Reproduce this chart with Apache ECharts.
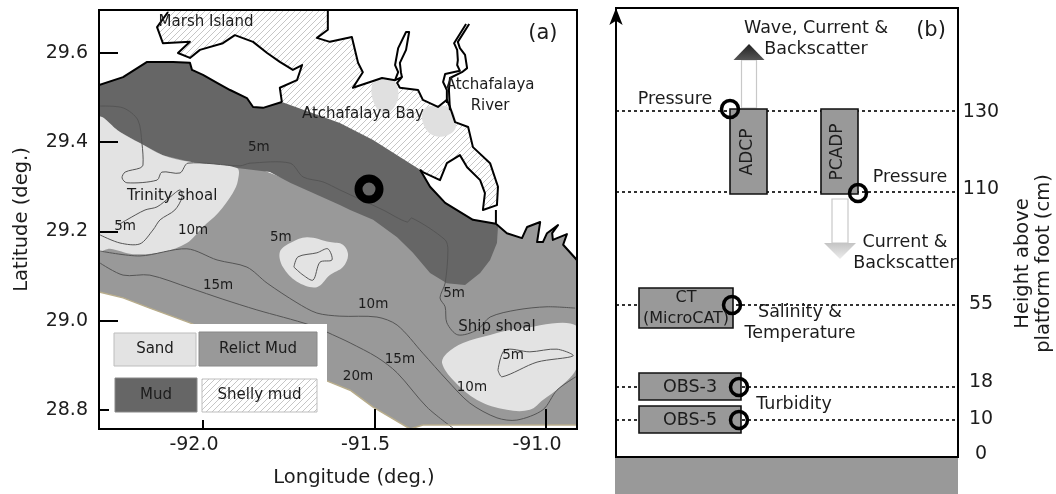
<!DOCTYPE html>
<html><head><meta charset="utf-8">
<style>html,body{margin:0;padding:0;background:#fff}#c{width:1056px;height:494px}</style>
<script src="https://cdn.jsdelivr.net/npm/echarts@6/dist/echarts.min.js"></script>
</head><body><div id="c"></div>
<script>
// ---------- panel (a): map, all in [longitude, latitude] ----------
const lonTicks=[-92.0,-91.5,-91.0];
const latTicks=[28.8,29.0,29.2,29.4,29.6];
const relictMud=[[-92.303,29.472],[-91.901,29.360],[-91.601,29.270],[-91.192,29.214],[-91.146,29.217],[-91.114,29.196],[-91.070,29.185],[-91.055,29.210],[-91.017,29.221],[-91.026,29.176],[-91.009,29.176],[-90.997,29.196],[-90.965,29.214],[-90.982,29.196],[-90.980,29.181],[-90.939,29.194],[-90.950,29.170],[-90.910,29.136],[-90.910,28.766],[-91.359,28.766],[-91.396,28.757],[-91.504,28.806],[-91.571,28.844],[-91.630,28.862],[-92.038,28.995],[-92.155,29.028],[-92.233,29.051],[-92.303,29.064]];
const mud=[[-92.303,29.528],[-92.233,29.546],[-92.163,29.580],[-92.087,29.580],[-92.038,29.578],[-92.032,29.562],[-92.000,29.551],[-91.959,29.533],[-91.921,29.517],[-91.872,29.499],[-91.854,29.479],[-91.825,29.477],[-91.770,29.490],[-91.601,29.443],[-91.504,29.405],[-91.367,29.338],[-91.338,29.300],[-91.294,29.264],[-91.213,29.226],[-91.146,29.217],[-91.140,29.210],[-91.143,29.174],[-91.163,29.136],[-91.192,29.107],[-91.236,29.080],[-91.289,29.084],[-91.338,29.107],[-91.388,29.152],[-91.434,29.187],[-91.504,29.226],[-91.571,29.248],[-91.601,29.259],[-91.746,29.309],[-91.805,29.333],[-91.901,29.342],[-92.038,29.356],[-92.117,29.371],[-92.184,29.398],[-92.242,29.423],[-92.300,29.454],[-92.303,29.454]];
const shellyMud=[[-92.102,29.696],[-91.636,29.696],[-91.636,29.652],[-91.668,29.634],[-91.630,29.625],[-91.566,29.636],[-91.548,29.578],[-91.534,29.557],[-91.563,29.522],[-91.478,29.544],[-91.440,29.539],[-91.420,29.546],[-91.434,29.533],[-91.426,29.522],[-91.373,29.517],[-91.359,29.495],[-91.315,29.479],[-91.289,29.495],[-91.280,29.479],[-91.265,29.445],[-91.227,29.434],[-91.213,29.389],[-91.163,29.353],[-91.140,29.300],[-91.143,29.259],[-91.184,29.248],[-91.178,29.286],[-91.192,29.315],[-91.230,29.344],[-91.251,29.371],[-91.289,29.353],[-91.309,29.315],[-91.359,29.333],[-91.367,29.338],[-91.504,29.405],[-91.601,29.443],[-91.770,29.490],[-91.776,29.522],[-91.726,29.539],[-91.711,29.573],[-91.738,29.562],[-91.776,29.580],[-91.813,29.600],[-91.854,29.625],[-91.907,29.640],[-91.942,29.622],[-92.009,29.607],[-92.038,29.589],[-92.073,29.600],[-92.038,29.625],[-92.117,29.622],[-92.134,29.658],[-92.102,29.692]];
const sandTrinity=[[-92.303,29.454],[-92.242,29.423],[-92.184,29.398],[-92.117,29.371],[-92.038,29.356],[-91.901,29.342],[-91.898,29.315],[-91.913,29.286],[-91.956,29.241],[-92.000,29.210],[-92.047,29.174],[-92.117,29.154],[-92.204,29.149],[-92.271,29.161],[-92.303,29.158]];
const sandMid=[[-91.776,29.154],[-91.746,29.174],[-91.697,29.187],[-91.630,29.176],[-91.592,29.170],[-91.577,29.147],[-91.592,29.120],[-91.630,29.102],[-91.668,29.075],[-91.726,29.087],[-91.767,29.120]];
const sandShip=[[-91.303,28.905],[-91.289,28.927],[-91.242,28.950],[-91.163,28.968],[-91.085,28.981],[-90.910,28.988],[-90.910,28.896],[-90.959,28.851],[-91.009,28.822],[-91.047,28.800],[-91.114,28.800],[-91.201,28.822],[-91.271,28.867]];
const sandBayWest=[[-91.504,29.535],[-91.507,29.501],[-91.484,29.468],[-91.455,29.468],[-91.431,29.499],[-91.440,29.535],[-91.478,29.544]];
const sandBayEast=[[-91.347,29.479],[-91.362,29.457],[-91.344,29.423],[-91.309,29.412],[-91.274,29.421],[-91.262,29.439],[-91.280,29.477]];
const riverWest=[[-91.233,29.665],[-91.268,29.622],[-91.259,29.607],[-91.257,29.584],[-91.259,29.573],[-91.251,29.560],[-91.294,29.553],[-91.300,29.535],[-91.289,29.517],[-91.289,29.488]];
const riverEast=[[-91.224,29.665],[-91.257,29.625],[-91.251,29.611],[-91.236,29.596],[-91.230,29.566],[-91.245,29.557],[-91.280,29.544],[-91.283,29.517],[-91.280,29.472]];
const waxLake=[[-91.440,29.539],[-91.431,29.557],[-91.440,29.573],[-91.431,29.611],[-91.408,29.647],[-91.399,29.647],[-91.408,29.607],[-91.426,29.578],[-91.423,29.557],[-91.420,29.546]];
const contour5main=[[-92.300,29.481],[-92.233,29.477],[-92.190,29.450],[-92.178,29.398],[-92.175,29.349],[-92.184,29.342],[-92.227,29.333],[-92.236,29.320],[-92.222,29.309],[-92.134,29.315],[-92.120,29.333],[-92.067,29.331],[-92.044,29.353],[-91.892,29.347],[-91.863,29.353],[-91.746,29.353],[-91.708,29.322],[-91.650,29.311],[-91.601,29.293],[-91.475,29.248],[-91.405,29.221],[-91.391,29.230],[-91.294,29.181],[-91.286,29.158],[-91.294,29.084],[-91.309,29.051],[-91.294,29.031],[-91.289,28.995],[-91.257,28.968],[-91.201,28.979],[-91.163,29.008],[-91.085,29.024],[-90.997,29.031],[-90.915,29.028]];
const contour5trinity=[[-92.300,29.192],[-92.242,29.174],[-92.184,29.172],[-92.146,29.203],[-92.125,29.226],[-92.082,29.248],[-92.061,29.277],[-92.067,29.293],[-92.096,29.277],[-92.134,29.255],[-92.169,29.248],[-92.222,29.226],[-92.248,29.214]];
const contour5mid=[[-91.735,29.120],[-91.723,29.143],[-91.668,29.152],[-91.636,29.161],[-91.624,29.136],[-91.659,29.131],[-91.679,29.091],[-91.708,29.102],[-91.735,29.120]];
const contour5ship=[[-91.140,28.889],[-91.120,28.934],[-91.047,28.930],[-90.968,28.936],[-90.921,28.921],[-91.026,28.907],[-91.128,28.874],[-91.140,28.889]];
const contour10=[[-92.300,29.156],[-92.184,29.145],[-92.047,29.161],[-91.959,29.136],[-91.872,29.120],[-91.813,29.084],[-91.726,29.040],[-91.668,29.017],[-91.601,29.010],[-91.493,29.008],[-91.434,28.990],[-91.359,28.927],[-91.289,28.867],[-91.222,28.815],[-91.143,28.782],[-91.085,28.777],[-91.009,28.800],[-90.968,28.844],[-90.913,28.874]];
const contour15=[[-92.300,29.129],[-92.233,29.102],[-92.155,29.102],[-92.038,29.073],[-91.942,29.048],[-91.843,29.024],[-91.688,28.990],[-91.601,28.961],[-91.571,28.950],[-91.493,28.918],[-91.434,28.883],[-91.347,28.806],[-91.271,28.759]];
const site=[-91.516,29.295];
const mapLabels=[['Marsh Island',-91.991,29.670,15],['Atchafalaya Bay',-91.534,29.463,15],['Atchafalaya\nRiver',-91.163,29.504,15],['Trinity shoal',-92.090,29.279,15],['Ship shoal',-91.143,28.986,15],['5m',-91.837,29.389,13.5],['5m',-92.227,29.210,13.5],['10m',-92.029,29.201,13.5],['5m',-91.773,29.187,13.5],['15m',-91.956,29.078,13.5],['10m',-91.504,29.037,13.5],['15m',-91.426,28.912,13.5],['20m',-91.548,28.874,13.5],['5m',-91.268,29.060,13.5],['10m',-91.216,28.851,13.5],['5m',-91.096,28.921,13.5],['(a)',-91.009,29.643,21]];

// ---------- panel (b): schematic of the platform ----------
const heights=[0,10,18,55,110,130];
const heightLabelPos=[3,38,75,153,268,345];
const dottedHeights=[37,70,152,265,346];
const instrumentNames=['ADCP','PCADP','CT','OBS-3','OBS-5'];
const instrumentLeft=[114,205,23,23,23];
const instrumentRight=[151,242,117,125,125];
const instrumentBottom=[263,263,129,57,24];
const instrumentTop=[348,348,169,84,51];
const sensorX=[114,242,116,123,123];
const sensorY=[348,264,152,70,37];
const panelLabels=[['Wave, Current &\nBackscatter',200,418,17.5,0],['(b)',315,426,21,0],['Pressure',59,358,17.5,0],['Pressure',294,280,17.5,0],['Current &\nBackscatter',289,204,17.5,0],['Salinity &\nTemperature',184,134,17.5,0],['Turbidity',178,53,17.5,0],['ADCP',132,305,17,90],['PCADP',222,305,17,90],['CT\n(MicroCAT)',70,149,16,0],['OBS-3',74,70,17.5,0],['OBS-5',74,37,17.5,0]];

const legendItems=[['Sand',114,333,82,33,'#e3e3e3','#bdbdbd'],['Relict Mud',199,332,118,34,'#999999','#888888'],['Mud',115,378,82,34,'#666666','#888888'],['Shelly mud',202,379,115,33,'hatch','#bdbdbd']];

const FONT='"DejaVu Sans"', INK='#1c1c1c';

const hc=document.createElement('canvas');hc.width=6;hc.height=6;
const g=hc.getContext('2d');g.fillStyle='#fff';g.fillRect(0,0,6,6);g.strokeStyle='#c6c6c6';g.lineWidth=1;
g.beginPath();g.moveTo(-1,7);g.lineTo(7,-1);g.moveTo(-1,1);g.lineTo(1,-1);g.moveTo(5,7);g.lineTo(7,5);g.stroke();
const hatch={image:hc,repeat:'repeat'};

function poly(name,rings,fill,z,smooth,stroke){return {type:'custom',name,coordinateSystem:'cartesian2d',xAxisIndex:0,yAxisIndex:0,z,silent:true,clip:true,
  data:rings.map(r=>r[0]),encode:{x:0,y:1},
  renderItem:(p,api)=>({type:'polygon',shape:{points:rings[p.dataIndex].map(c=>api.coord(c)),smooth:smooth||0},style:{fill,stroke:stroke||null,lineWidth:stroke?1:0}})};}
function path(name,lines,color,width,z,smooth){return {type:'custom',name,coordinateSystem:'cartesian2d',xAxisIndex:0,yAxisIndex:0,z,silent:true,clip:true,
  data:lines.map(r=>r[0]),encode:{x:0,y:1},
  renderItem:(p,api)=>({type:'polyline',shape:{points:lines[p.dataIndex].map(c=>api.coord(c)),smooth:smooth||0},style:{fill:null,stroke:color,lineWidth:width,lineJoin:'round'}})};}
function labels(name,rows,xi,yi,z){return {type:'scatter',name,xAxisIndex:xi,yAxisIndex:yi,z,silent:true,symbolSize:1,itemStyle:{color:'transparent',opacity:1},
  data:rows.map(r=>({value:[r[1],r[2]],name:r[0],label:{show:true,position:'inside',align:'center',verticalAlign:'middle',formatter:r[0],fontFamily:FONT,fontSize:r[3],lineHeight:21,color:INK,rotate:r[4]||0}}))};}

const coast=[mud.slice(0,13),mud.slice(15,20),shellyMud.slice(1,34),shellyMud.slice(36),relictMud.slice(4,18),riverWest,riverEast,waxLake,[[-91.146,29.248],[-91.146,29.217]]];
const tanCoast=[relictMud.slice(19),relictMud.slice(18,20)];

const series=[
 poly('Relict mud',[relictMud],'#999999',2),
 poly('Shelly mud',[shellyMud],hatch,3),
 poly('Mud',[mud],'#666666',4),
 poly('Sand',[sandTrinity,sandMid,sandShip],'#e3e3e3',5,0.35),
 poly('Sand (bay)',[sandBayWest,sandBayEast],'#e0e0e0',5,0.35),
 path('Contours',[contour5main,contour5trinity,contour5mid,contour5ship,contour10,contour15],'#555555',1,6,0.3),
 path('South coast',tanCoast,'#b8ad8c',1.5,6),
 path('Coast',coast,'#000000',2,7),
 {type:'scatter',name:'Site',xAxisIndex:0,yAxisIndex:0,z:8,silent:true,symbolSize:21,itemStyle:{color:'transparent',borderColor:'#000',borderWidth:8,opacity:1},data:[site]},
 labels('Map labels',mapLabels,0,0,9)
];
dottedHeights.forEach(h=>series.push({type:'line',name:'Level '+h,xAxisIndex:1,yAxisIndex:1,z:2,silent:true,symbol:'none',lineStyle:{color:'#000',width:1.6,type:[3,3]},data:[[0,h],[342,h]]}));
series.push({type:'custom',name:'Arrows',xAxisIndex:1,yAxisIndex:1,z:3,silent:true,coordinateSystem:'cartesian2d',encode:{x:0,y:1},
 data:[[133,349],[224,258]],
 renderItem:(p,api)=>{const up=p.dataIndex===0;const c=api.coord;
  const cx=api.value(0),by=api.value(1);
  const tipLen=16,baseLen=up?48:44,hs=up?7.5:8,hh=up?15.5:16;const d=up?1:-1;
  const s=[c([cx-hs,by]),c([cx+hs,by]),c([cx+hs,by+d*baseLen]),c([cx-hs,by+d*baseLen])];
  const h=[c([cx-hh,by+d*baseLen]),c([cx+hh,by+d*baseLen]),c([cx,by+d*(baseLen+tipLen)])];
  const grad=up?new echarts.graphic.LinearGradient(0,0,0,1,[{offset:0,color:'#222'},{offset:1,color:'#555'}]):new echarts.graphic.LinearGradient(0,0,0,1,[{offset:0,color:'#c4c4c4'},{offset:1,color:'#ececec'}]);
  return {type:'group',children:[{type:'polygon',shape:{points:s},style:{fill:'#fff',stroke:'#c8c8c8',lineWidth:1.2}},{type:'polygon',shape:{points:h},style:{fill:grad,stroke:null}}]};}});
series.push({type:'custom',name:'Instruments',xAxisIndex:1,yAxisIndex:1,z:4,silent:true,coordinateSystem:'cartesian2d',encode:{x:0,y:1},
 data:instrumentNames.map((n,i)=>[instrumentLeft[i],instrumentBottom[i],instrumentRight[i],instrumentTop[i]]),
 renderItem:(p,api)=>{const a=api.coord([api.value(0),api.value(3)]),b=api.coord([api.value(2),api.value(1)]);
  return {type:'rect',shape:{x:a[0],y:a[1],width:b[0]-a[0],height:b[1]-a[1]},style:{fill:'#999999',stroke:'#111',lineWidth:1.6}};}});
series.push({type:'scatter',name:'Sensors',xAxisIndex:1,yAxisIndex:1,z:6,silent:true,symbolSize:17,itemStyle:{color:'transparent',borderColor:'#000',borderWidth:3.5,opacity:1},data:sensorX.map((x,i)=>[x,sensorY[i]])});
series.push(labels('Panel labels',panelLabels,1,1,7));

const graphic=[
 {type:'rect',z:50,shape:{x:615,y:458,width:343,height:36},style:{fill:'#999999'}},
 {type:'rect',z:50,shape:{x:99,y:10,width:478,height:419},style:{fill:null,stroke:'#000',lineWidth:2}},
 {type:'rect',z:60,shape:{x:109,y:324,width:218,height:96},style:{fill:'#ffffff'}}
];
legendItems.forEach(r=>{
 graphic.push({type:'rect',z:61,shape:{x:r[1],y:r[2],width:r[3],height:r[4]},style:{fill:r[5]==='hatch'?hatch:r[5],stroke:r[6],lineWidth:1}});
 graphic.push({type:'text',z:62,style:{text:r[0],x:r[1]+r[3]/2,y:r[2]+r[4]/2,align:'center',verticalAlign:'middle',fontFamily:FONT,fontSize:15,fill:INK}});
});

const option={animation:false,backgroundColor:'#fff',
 grid:[{left:99,top:10,width:478,height:419,show:false,outerBoundsMode:'none'},
       {left:616,top:8,width:342,height:449,show:true,borderColor:'#000',borderWidth:2,backgroundColor:'transparent',outerBoundsMode:'none'}],
 xAxis:[
  {type:'value',gridIndex:0,min:-92.3032,max:-90.9096,z:10,name:'Longitude (deg.)',nameLocation:'middle',nameGap:39,
   nameTextStyle:{fontFamily:FONT,fontSize:19.5,color:INK,padding:[0,0,0,32]},
   axisLine:{show:false},splitLine:{show:false},
   axisTick:{show:true,inside:true,length:20,lineStyle:{color:'#000',width:2},customValues:lonTicks},
   axisLabel:{show:true,customValues:lonTicks,margin:7,padding:[0,18,0,0],fontFamily:FONT,fontSize:19,color:INK,formatter:v=>v.toFixed(1)}},
  {type:'value',gridIndex:1,min:0,max:342,show:false,splitLine:{show:false}}
 ],
 yAxis:[
  {type:'value',gridIndex:0,min:28.757,max:29.6964,z:10,name:'Latitude (deg.)',nameLocation:'middle',nameGap:67,nameRotate:90,
   nameTextStyle:{fontFamily:FONT,fontSize:19.5,color:INK},
   axisLine:{show:false},splitLine:{show:false},
   axisTick:{show:true,inside:true,length:19,lineStyle:{color:'#000',width:2},customValues:latTicks},
   axisLabel:{show:true,customValues:latTicks,margin:11,padding:[0,0,5,0],fontFamily:FONT,fontSize:19,color:INK,formatter:v=>v.toFixed(1)}},
  {type:'value',gridIndex:1,position:'right',min:0,max:449,name:'Height above\nplatform foot (cm)',nameLocation:'middle',nameGap:54,nameRotate:90,
   nameTextStyle:{fontFamily:FONT,fontSize:19.5,lineHeight:21,color:INK,padding:[0,62,0,0]},
   axisLine:{show:false},axisTick:{show:false},splitLine:{show:false},
   axisLabel:{show:true,customValues:heightLabelPos,margin:23,align:'center',fontFamily:FONT,fontSize:19,color:INK,formatter:v=>String(heights[heightLabelPos.indexOf(v)])}},
  {type:'value',gridIndex:1,position:'left',min:0,max:449,z:10,
   axisLine:{show:true,symbol:['none','arrow'],symbolSize:[10,17],lineStyle:{color:'#000',width:2}},
   axisTick:{show:false},axisLabel:{show:false},splitLine:{show:false}}
 ],
 graphic,series};
echarts.init(document.getElementById('c'),null,{renderer:'canvas'}).setOption(option);
</script></body></html>
